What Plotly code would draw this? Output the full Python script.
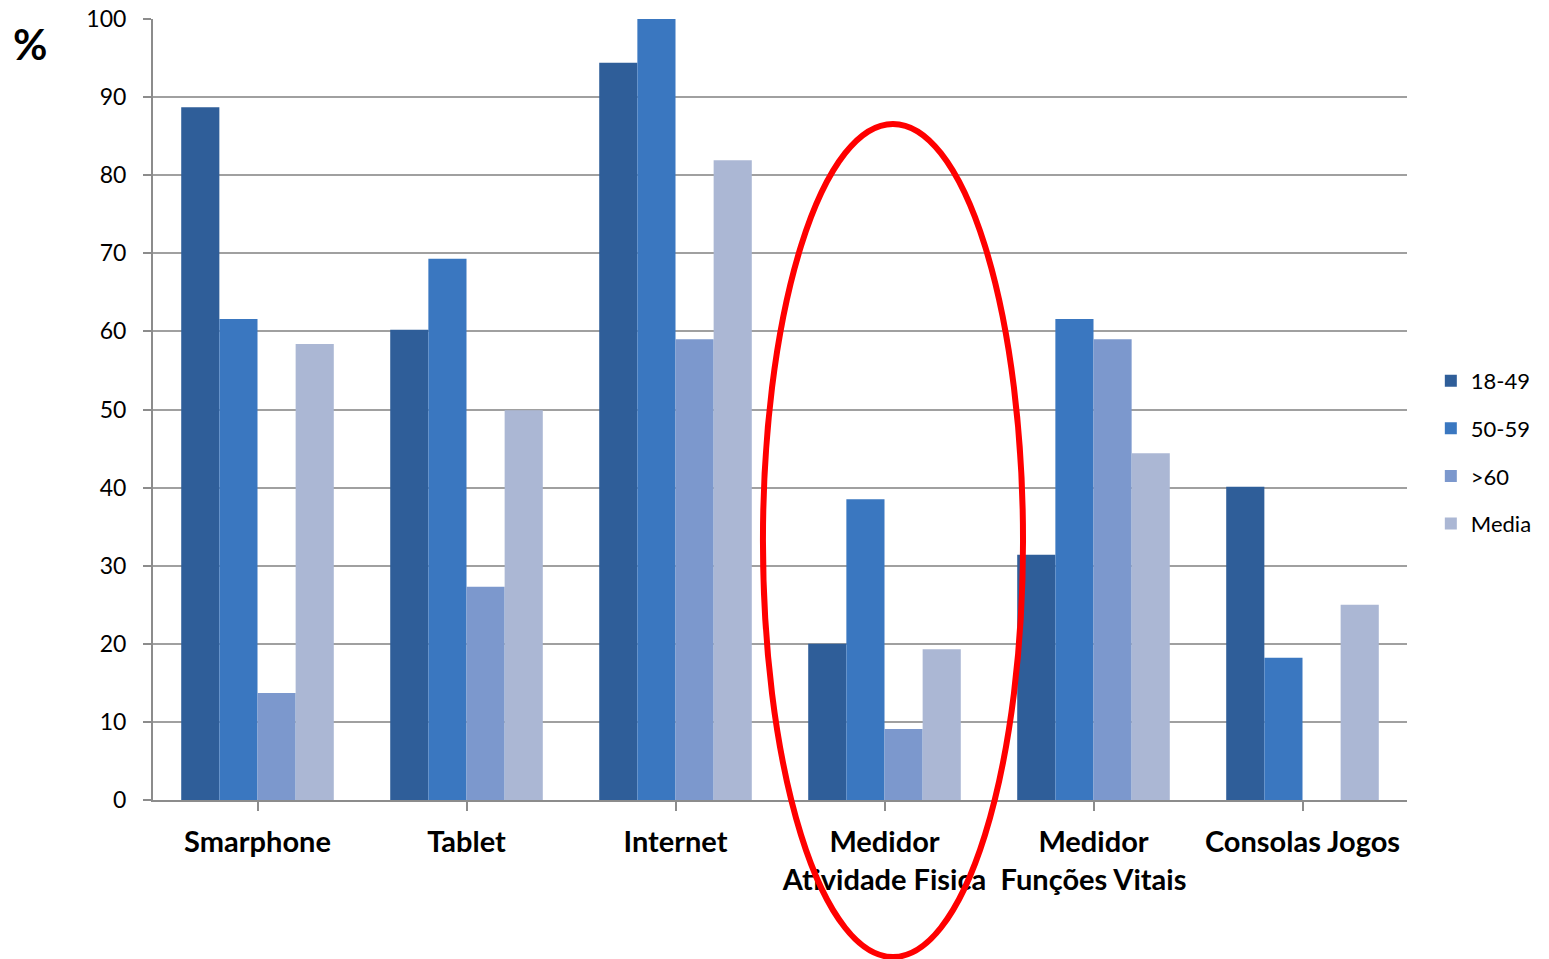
import plotly.graph_objects as go

categories = ["Smarphone", "Tablet", "Internet", "Medidor<br>Atividade Fisica",
              "Medidor<br>Funções Vitais", "Consolas Jogos"]
series_names = ["18-49", "50-59", ">60", "Media"]
v_18_49 = [88.7, 60.2, 94.4, 20.0, 31.4, 40.1]
v_50_59 = [61.6, 69.3, 100.0, 38.5, 61.6, 18.2]
v_60 = [13.7, 27.3, 59.0, 9.1, 59.0, 0]
v_media = [58.4, 49.9, 81.9, 19.3, 44.4, 25.0]
y_ticks = list(range(0, 101, 10))

colors = ["#2F5E99", "#3A77C0", "#7C98CD", "#ABB7D4"]
values = [v_18_49, v_50_59, v_60, v_media]

fig = go.Figure()
for name, vals, c in zip(series_names, values, colors):
    fig.add_trace(go.Bar(
        x=list(range(len(categories))), y=vals, name=name,
        legendgroup=name,
        marker=dict(color=c, line=dict(width=0)),
    ))

font_family = "Lato, 'Open Sans', sans-serif"
fig.update_layout(
    width=1549, height=959,
    margin=dict(l=153, r=142, t=19, b=159, autoexpand=False),
    paper_bgcolor="white", plot_bgcolor="white",
    barmode="group", bargap=0.27, bargroupgap=0,
    font=dict(family=font_family, color="black"),
    showlegend=True,
    legend=dict(x=1.019, y=0.445, xanchor="left", yanchor="middle",
                font=dict(size=22, color="black"), tracegroupgap=16,
                itemwidth=30),
    xaxis=dict(
        range=[-0.5, 5.5], tickmode="array",
        tickvals=list(range(len(categories))), ticktext=categories,
        tickfont=dict(size=29, color="black", family=font_family, weight="bold"),
        showline=True, linecolor="#8c8c8c", linewidth=2,
        ticks="outside", ticklen=9, tickcolor="#8c8c8c", tickwidth=2,
        ticklabelstandoff=6,
        showgrid=False, zeroline=False,
    ),
    yaxis=dict(
        range=[0, 100], tickvals=y_ticks,
        tickfont=dict(size=23, color="black"),
        showline=True, linecolor="#8c8c8c", linewidth=2,
        ticks="outside", ticklen=8, tickcolor="#8c8c8c", tickwidth=2,
        ticklabelstandoff=12,
        showgrid=True, gridcolor="#a0a0a0", gridwidth=2,
        zeroline=False,
    ),
    annotations=[dict(text="<b>%</b>", x=-0.098, y=0.968, xref="paper", yref="paper",
                      xanchor="center", yanchor="middle", showarrow=False,
                      font=dict(size=42, color="black"))],
    shapes=[dict(type="circle", xref="paper", yref="paper",
                 x0=0.4864, x1=0.6938, y0=-0.201, y1=0.8656,
                 line=dict(color="#FF0000", width=6), layer="above")],
)
# category tick marks on the boundaries between groups
fig.update_xaxes(tickson="boundaries")

fig.write_html("out.html")
